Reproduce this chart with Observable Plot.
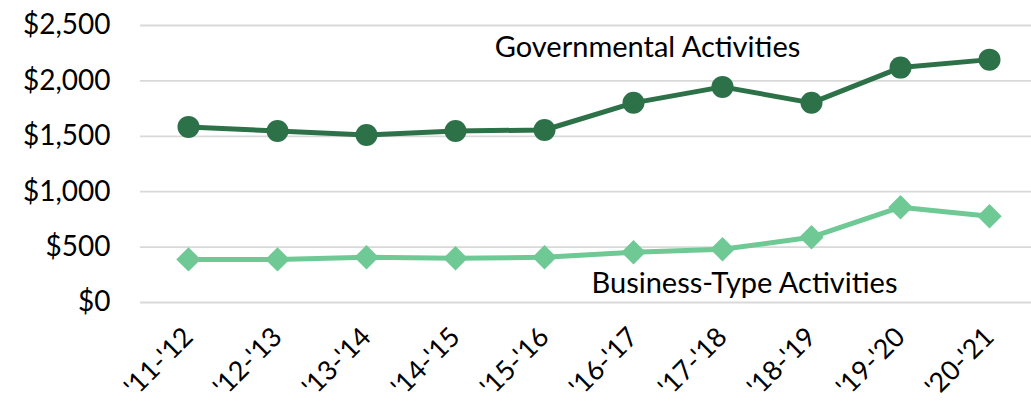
<!DOCTYPE html>
<html>
<head>
<meta charset="utf-8">
<script src="https://cdn.jsdelivr.net/npm/d3@7"></script>
<script src="https://cdn.jsdelivr.net/npm/@observablehq/plot@0.6"></script>
<style>
  html, body { margin: 0; padding: 0; background: #fff; }
  #chart svg { display: block; }
</style>
</head>
<body>
<div id="chart"></div>
<script>
const years = ["'11-'12", "'12-'13", "'13-'14", "'14-'15", "'15-'16", "'16-'17", "'17-'18", "'18-'19", "'19-'20", "'20-'21"];
const governmental = [1585, 1548, 1512, 1548, 1557, 1802, 1946, 1802, 2120, 2192];
const business = [389, 389, 408, 399, 408, 453, 480, 589, 860, 779];
const yTicks = [0, 500, 1000, 1500, 2000, 2500];
const seriesNames = ["Governmental Activities", "Business-Type Activities"];

const govData = years.map((y, i) => ({year: y, value: governmental[i]}));
const busData = years.map((y, i) => ({year: y, value: business[i]}));

const darkGreen = "#2d7148";
const lightGreen = "#6fc995";
const font = "Lato, 'Open Sans', sans-serif";

const chart = Plot.plot({
  width: 1031,
  height: 401,
  marginLeft: 140,
  marginRight: -5,
  marginTop: 25,
  marginBottom: 99,
  style: {fontFamily: font, fontSize: "28px", color: "#000", background: "#fff", overflow: "hidden"},
  x: {type: "point", domain: years, padding: 0.5},
  y: {domain: [0, 2500]},
  marks: [
    Plot.ruleY(yTicks, {stroke: "#d9d9d9", strokeWidth: 1.8}),
    Plot.axisY({ticks: yTicks, tickSize: 0, tickPadding: 30, tickFormat: d => "$" + d3.format(",")(d), label: null, fontSize: 28}),
    Plot.axisX({tickSize: 0, tickRotate: -45, tickPadding: 30, label: null, fontSize: 27}),
    Plot.line(busData, {x: "year", y: "value", stroke: lightGreen, strokeWidth: 5}),
    Plot.dot(busData, {x: "year", y: "value", symbol: "diamond2", r: 11, fill: lightGreen, stroke: "none"}),
    Plot.line(govData, {x: "year", y: "value", stroke: darkGreen, strokeWidth: 5}),
    Plot.dot(govData, {x: "year", y: "value", r: 11, fill: darkGreen, stroke: "none"}),
    Plot.text([seriesNames[0]], {x: () => years[5], y: () => 2300, dx: 14, text: d => d, fontSize: 29, fill: "#000"}),
    Plot.text([seriesNames[1]], {x: () => years[6], y: () => 165, dx: 22, text: d => d, fontSize: 29, fill: "#000"})
  ]
});
document.getElementById("chart").appendChild(chart);
</script>
</body>
</html>
